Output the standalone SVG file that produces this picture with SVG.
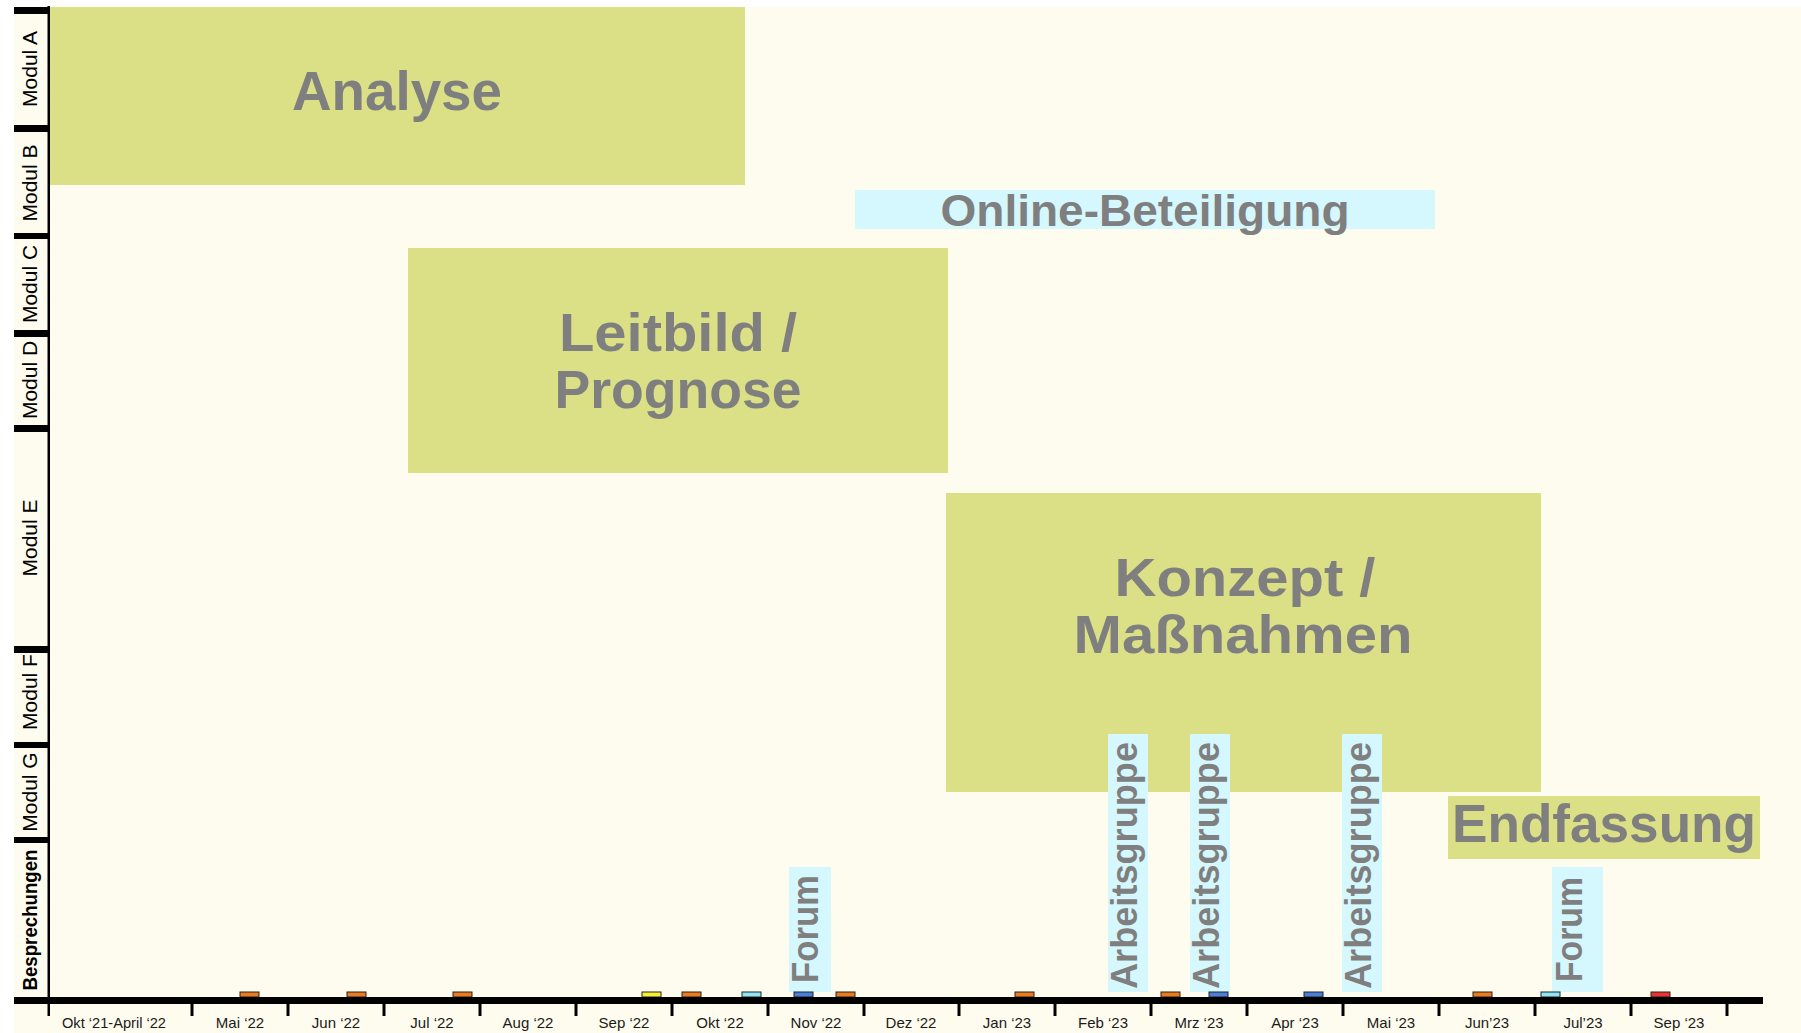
<svg xmlns="http://www.w3.org/2000/svg" width="1801" height="1033" viewBox="0 0 1801 1033">
<style>
.bg{fill:#fefcee}
.phase{fill:#dbe086}
.event{fill:#d5f8fe}
.big{font-family:"Liberation Sans",Arial,sans-serif;font-weight:bold;fill:#7f7f7f}
.lane{font-family:"Liberation Sans",Arial,sans-serif;font-size:21px;fill:#000}
.month{font-family:"Liberation Sans",Arial,sans-serif;font-size:15px;fill:#1a1a1a;text-anchor:middle}
.bar{fill:#000}
.mk{stroke:#222;stroke-width:1}
.or{fill:#ea7b1e}.ye{fill:#f6f032}.lb{fill:#8ee6f6}.bl{fill:#4a7fd9}.rd{fill:#ee3030}
</style>
<rect x="0" y="0" width="1801" height="1033" fill="#ffffff"/>
<rect class="bg" x="14" y="7" width="1787" height="1026"/>

<g id="lanes">
  <rect class="bar" x="14" y="7" width="35" height="7"/>
  <rect class="bar" x="14" y="125" width="35" height="7"/>
  <rect class="bar" x="14" y="233" width="35" height="6"/>
  <rect class="bar" x="14" y="330" width="35" height="7"/>
  <rect class="bar" x="14" y="425" width="35" height="7"/>
  <rect class="bar" x="14" y="646" width="35" height="7"/>
  <rect class="bar" x="14" y="742" width="35" height="6"/>
  <rect class="bar" x="14" y="837" width="35" height="6"/>
  <rect class="bar" x="47.5" y="6" width="2.5" height="1010"/>
  <text class="lane" transform="translate(37,69) rotate(-90)" text-anchor="middle">Modul A</text>
  <text class="lane" transform="translate(37,183) rotate(-90)" text-anchor="middle">Modul B</text>
  <text class="lane" transform="translate(37,284) rotate(-90)" text-anchor="middle">Modul C</text>
  <text class="lane" transform="translate(37,380) rotate(-90)" text-anchor="middle">Modul D</text>
  <text class="lane" transform="translate(37,538) rotate(-90)" text-anchor="middle">Modul E</text>
  <text class="lane" transform="translate(37,692) rotate(-90)" text-anchor="middle">Modul F</text>
  <text class="lane" transform="translate(37,792) rotate(-90)" text-anchor="middle">Modul G</text>
  <text class="lane" transform="translate(37,920) rotate(-90)" text-anchor="middle" font-weight="bold" font-size="19" textLength="141" lengthAdjust="spacingAndGlyphs">Besprechungen</text>
</g>

<g id="analyse">
  <rect class="phase" x="50" y="7" width="695" height="178"/>
  <text class="big" x="397" y="110" font-size="55" text-anchor="middle" textLength="210" lengthAdjust="spacingAndGlyphs">Analyse</text>
</g>

<g id="online-beteiligung">
  <rect class="event" x="855" y="190" width="580" height="39"/>
  <text class="big" x="1145" y="226" font-size="44" text-anchor="middle" textLength="409" lengthAdjust="spacingAndGlyphs">Online-Beteiligung</text>
</g>

<g id="leitbild">
  <rect class="phase" x="408" y="248" width="540" height="225"/>
  <text class="big" font-size="53" text-anchor="middle"><tspan x="678" y="351" textLength="238" lengthAdjust="spacingAndGlyphs">Leitbild /</tspan><tspan x="678" y="408" textLength="247" lengthAdjust="spacingAndGlyphs">Prognose</tspan></text>
</g>

<g id="konzept">
  <rect class="phase" x="946" y="493" width="595" height="299"/>
  <text class="big" font-size="54" text-anchor="middle"><tspan x="1245" y="596" textLength="261" lengthAdjust="spacingAndGlyphs">Konzept /</tspan><tspan x="1243" y="653" textLength="339" lengthAdjust="spacingAndGlyphs">Maßnahmen</tspan></text>
</g>

<g id="endfassung">
  <rect class="phase" x="1448" y="796" width="312" height="63"/>
  <text class="big" x="1452" y="842" font-size="54" textLength="304" lengthAdjust="spacingAndGlyphs">Endfassung</text>
</g>

<g id="forum-1">
  <rect class="event" x="789" y="867" width="42" height="125"/>
  <text class="big" transform="translate(818,983) rotate(-90)" font-size="36" textLength="108" lengthAdjust="spacingAndGlyphs">Forum</text>
</g>

<g id="arbeitsgruppe-1">
  <rect class="event" x="1108" y="734" width="40" height="258"/>
  <text class="big" transform="translate(1137,989) rotate(-90)" font-size="36" textLength="247" lengthAdjust="spacingAndGlyphs">Arbeitsgruppe</text>
</g>

<g id="arbeitsgruppe-2">
  <rect class="event" x="1190" y="734" width="40" height="258"/>
  <text class="big" transform="translate(1219,989) rotate(-90)" font-size="36" textLength="247" lengthAdjust="spacingAndGlyphs">Arbeitsgruppe</text>
</g>

<g id="arbeitsgruppe-3">
  <rect class="event" x="1342" y="734" width="40" height="258"/>
  <text class="big" transform="translate(1371,989) rotate(-90)" font-size="36" textLength="247" lengthAdjust="spacingAndGlyphs">Arbeitsgruppe</text>
</g>

<g id="forum-2">
  <rect class="event" x="1552" y="867" width="51" height="125"/>
  <text class="big" transform="translate(1582,982) rotate(-90)" font-size="36" textLength="105" lengthAdjust="spacingAndGlyphs">Forum</text>
</g>

<g id="meetings">
  <rect class="mk or" x="240" y="992" width="19" height="5"/>
  <rect class="mk or" x="347" y="992" width="19" height="5"/>
  <rect class="mk or" x="453" y="992" width="19" height="5"/>
  <rect class="mk ye" x="642" y="992" width="19" height="5"/>
  <rect class="mk or" x="682" y="992" width="19" height="5"/>
  <rect class="mk lb" x="742" y="992" width="19" height="5"/>
  <rect class="mk bl" x="794" y="992" width="19" height="5"/>
  <rect class="mk or" x="836" y="992" width="19" height="5"/>
  <rect class="mk or" x="1015" y="992" width="19" height="5"/>
  <rect class="mk or" x="1161" y="992" width="19" height="5"/>
  <rect class="mk bl" x="1209" y="992" width="19" height="5"/>
  <rect class="mk bl" x="1304" y="992" width="19" height="5"/>
  <rect class="mk or" x="1473" y="992" width="19" height="5"/>
  <rect class="mk lb" x="1541" y="992" width="19" height="5"/>
  <rect class="mk rd" x="1651" y="992" width="19" height="5"/>
</g>

<g id="connectors">
  <rect class="bar" x="14" y="997" width="1749" height="7"/>
  <g class="bar">
    <rect x="190.5" y="1003" width="3" height="13"/>
    <rect x="286.5" y="1003" width="3" height="13"/>
    <rect x="382.5" y="1003" width="3" height="13"/>
    <rect x="478.5" y="1003" width="3" height="13"/>
    <rect x="574.5" y="1003" width="3" height="13"/>
    <rect x="670.5" y="1003" width="3" height="13"/>
    <rect x="766.5" y="1003" width="3" height="13"/>
    <rect x="862.5" y="1003" width="3" height="13"/>
    <rect x="957.5" y="1003" width="3" height="13"/>
    <rect x="1053.5" y="1003" width="3" height="13"/>
    <rect x="1149.5" y="1003" width="3" height="13"/>
    <rect x="1245.5" y="1003" width="3" height="13"/>
    <rect x="1341.5" y="1003" width="3" height="13"/>
    <rect x="1437.5" y="1003" width="3" height="13"/>
    <rect x="1533.5" y="1003" width="3" height="13"/>
    <rect x="1629.5" y="1003" width="3" height="13"/>
    <rect x="1725.5" y="1003" width="3" height="13"/>
  </g>
  <text class="month" x="114" y="1028" textLength="104" lengthAdjust="spacingAndGlyphs">Okt ‘21-April ‘22</text>
  <text class="month" x="240" y="1028">Mai ‘22</text>
  <text class="month" x="336" y="1028">Jun ‘22</text>
  <text class="month" x="432" y="1028">Jul ‘22</text>
  <text class="month" x="528" y="1028">Aug ‘22</text>
  <text class="month" x="624" y="1028">Sep ‘22</text>
  <text class="month" x="720" y="1028">Okt ‘22</text>
  <text class="month" x="816" y="1028">Nov ‘22</text>
  <text class="month" x="911" y="1028">Dez ‘22</text>
  <text class="month" x="1007" y="1028">Jan ‘23</text>
  <text class="month" x="1103" y="1028">Feb ‘23</text>
  <text class="month" x="1199" y="1028">Mrz ‘23</text>
  <text class="month" x="1295" y="1028">Apr ‘23</text>
  <text class="month" x="1391" y="1028">Mai ‘23</text>
  <text class="month" x="1487" y="1028">Jun’23</text>
  <text class="month" x="1583" y="1028">Jul’23</text>
  <text class="month" x="1679" y="1028">Sep ‘23</text>
</g>
</svg>
